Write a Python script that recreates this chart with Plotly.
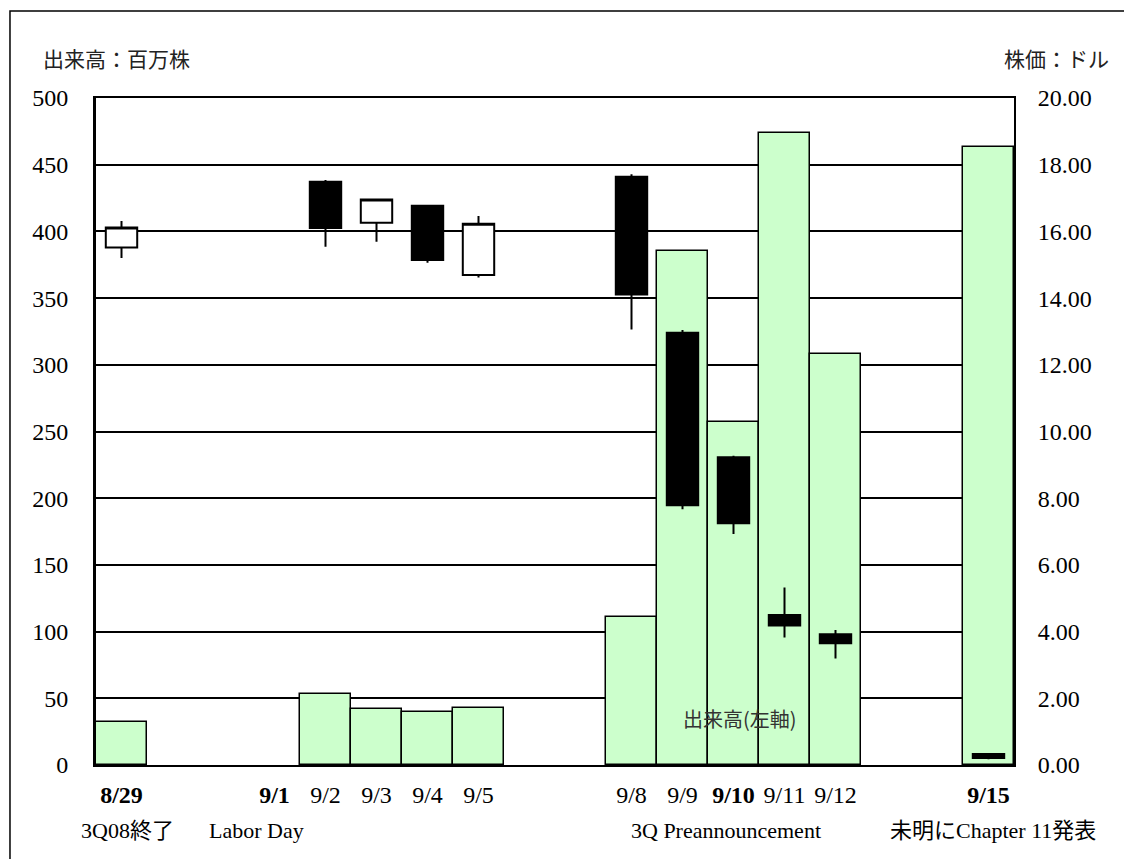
import plotly.graph_objects as go

# ---- data ----
dates = ["8/29", "8/30", "8/31", "9/1", "9/2", "9/3", "9/4", "9/5", "9/6", "9/7",
         "9/8", "9/9", "9/10", "9/11", "9/12", "9/13", "9/14", "9/15"]
volume = [32, None, None, None, 53, 42, 40, 43, None, None,
          111, 385, 257, 474, 308, None, None, 463]   # million shares

trade_dates = ["8/29", "9/2", "9/3", "9/4", "9/5", "9/8", "9/9", "9/10", "9/11", "9/12", "9/15"]
price_open  = [15.52, 17.49, 16.26, 16.77, 14.69, 17.64, 12.96, 9.23, 4.50, 3.92, 0.33]
price_high  = [16.31, 17.54, 16.99, 16.79, 16.46, 17.71, 13.04, 9.27, 5.32, 4.05, 0.36]
price_low   = [15.20, 15.54, 15.69, 15.06, 14.62, 13.06, 7.67, 6.93, 3.82, 3.19, 0.17]
price_close = [16.12, 16.10, 16.96, 15.14, 16.23, 14.11, 7.79, 7.25, 4.18, 3.65, 0.21]

tick_dates = ["8/29", "9/1", "9/2", "9/3", "9/4", "9/5", "9/8", "9/9", "9/10", "9/11", "9/12", "9/15"]
bold_dates = {"8/29", "9/1", "9/10", "9/15"}
tick_text = [f"<b>{d}</b>" if d in bold_dates else d for d in tick_dates]

event_dates = ["8/29", "9/1", "9/10", "9/15"]
event_labels = ["3Q08終了", "Labor Day", "3Q Preannouncement", "未明にChapter 11発表"]
event_shift = [6, -18, -8, 4]

left_ticks = [0, 50, 100, 150, 200, 250, 300, 350, 400, 450, 500]
right_ticks = [0, 2, 4, 6, 8, 10, 12, 14, 16, 18, 20]

FONT = "Liberation Serif, 'Times New Roman', 'Noto Sans CJK JP', serif"
JFONT = "'Noto Sans CJK JP', 'Liberation Serif', sans-serif"

fig = go.Figure()
fig.add_trace(go.Bar(
    x=dates, y=volume, width=1.0,
    marker=dict(color="#CCFFCC", line=dict(color="black", width=1.5)),
    hoverinfo="skip", showlegend=False, yaxis="y",
))
fig.add_trace(go.Candlestick(
    x=trade_dates, open=price_open, high=price_high, low=price_low, close=price_close,
    increasing=dict(fillcolor="white", line=dict(color="black", width=2)),
    decreasing=dict(fillcolor="black", line=dict(color="black", width=2)),
    whiskerwidth=0, hoverinfo="skip", showlegend=False, yaxis="y2",
))

fig.update_layout(
    width=1124, height=859,
    margin=dict(l=96, r=110, t=98, b=94),
    paper_bgcolor="white", plot_bgcolor="white",
    font=dict(family=FONT, size=24, color="black"),
    bargap=0, boxgap=0.12, boxgroupgap=0.3,
    xaxis=dict(
        type="category", categoryorder="array", categoryarray=dates,
        range=[-0.5, len(dates) - 0.5],
        tickmode="array", tickvals=tick_dates, ticktext=tick_text,
        showgrid=False, showline=True, linecolor="black", linewidth=2, mirror=True,
        ticks="", ticklabelstandoff=7, tickfont=dict(size=24),
        rangeslider=dict(visible=False), fixedrange=True,
    ),
    yaxis=dict(
        range=[0, 500], tickvals=left_ticks, ticktext=[str(v) for v in left_ticks],
        showgrid=True, gridcolor="black", gridwidth=1.5,
        showline=True, linecolor="black", linewidth=3,
        zeroline=False, ticks="", ticklabelstandoff=20, tickfont=dict(size=24),
        fixedrange=True,
    ),
    yaxis2=dict(
        range=[0, 20], overlaying="y", side="right",
        tickvals=right_ticks, ticktext=[f"{v:.2f}" for v in right_ticks],
        showgrid=False, showline=True, linecolor="black", linewidth=2,
        zeroline=False, ticks="", ticklabelstandoff=17, tickfont=dict(size=24),
        fixedrange=True,
    ),
)

annotations = [
    dict(text="出来高：百万株", xref="paper", yref="paper", x=0.0218, y=1.06,
         xanchor="center", yanchor="middle", showarrow=False,
         font=dict(family=JFONT, size=21, color="#222")),
    dict(text="株価：ドル", xref="paper", yref="paper", x=1.0458, y=1.06,
         xanchor="center", yanchor="middle", showarrow=False,
         font=dict(family=JFONT, size=21, color="#222")),
    dict(text="出来高(左軸)", xref="x", yref="y", x="9/10", y=35, xshift=6,
         xanchor="center", yanchor="middle", showarrow=False,
         font=dict(family=JFONT, size=20, color="#333")),
]
for d, lab, sh in zip(event_dates, event_labels, event_shift):
    annotations.append(dict(text=lab, xref="x", yref="paper", x=d, y=-0.0975, xshift=sh,
                            xanchor="center", yanchor="middle", showarrow=False,
                            font=dict(family=FONT, size=22, color="black")))
fig.update_layout(annotations=annotations)

# outer frame of the chart
fig.add_shape(type="rect", xref="paper", yref="paper",
              x0=-0.0937, x1=1.13, y0=-0.16, y1=1.1304,
              line=dict(color="black", width=1.5), fillcolor="rgba(0,0,0,0)", layer="below")

fig.write_html("out.html")
